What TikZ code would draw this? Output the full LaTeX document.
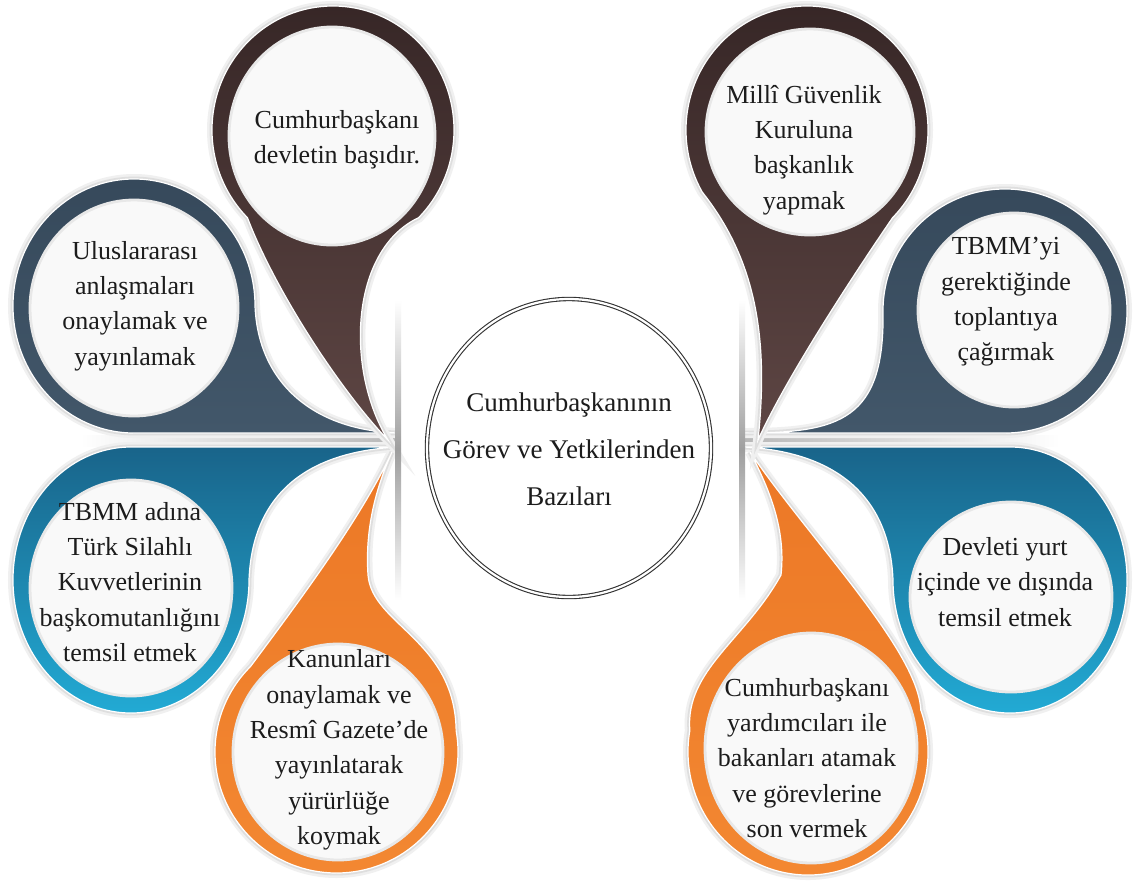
\documentclass[tikz,border=0pt]{standalone}
\usepackage{fontspec}
\setmainfont{Liberation Serif}
\usetikzlibrary{calc}
\definecolor{brA}{RGB}{54,38,38}
\definecolor{brB}{RGB}{94,70,68}
\definecolor{slA}{RGB}{54,73,91}
\definecolor{slB}{RGB}{66,87,106}
\definecolor{blA}{RGB}{25,100,138}
\definecolor{blB}{RGB}{34,170,212}
\definecolor{orA}{RGB}{236,120,38}
\definecolor{orB}{RGB}{243,136,50}
\definecolor{txt}{RGB}{28,28,28}
\definecolor{inwhite}{RGB}{249,249,249}
\begin{document}
\begin{tikzpicture}[x=0.5pt,y=-0.5pt,
  pinshape/.style={preaction={draw=black!6,line width=5pt},preaction={draw=black!13,line width=2.4pt},draw=white,line width=0.6pt},
  innerdisc/.style={fill=inwhite,draw=black!9,line width=1.4pt},
  lbl/.style={text=txt,align=center,font=\fontsize{13}{17.7}\selectfont,inner sep=0pt},
  glow/.style={top color=white,bottom color=white,middle color=black!38}
]
\path[use as bounding box,fill=white] (0,0) rectangle (1135,885);

% shadow bands between the side pins
\shade[left color=white,right color=black!28] (80,435) rectangle (398,446);
\shade[left color=black!28,right color=white] (742,435) rectangle (1060,446);

% slate left
\path[pinshape,top color=slA,bottom color=slB]
  ($(134,306)+(90:121 and 127)$) arc[start angle=90,end angle=360,x radius=121,y radius=127]
  .. controls (258,380) and (310,430) .. (398,433) -- cycle;
% slate right
\path[pinshape,top color=slA,bottom color=slB]
  ($(1005,311)+(90:122 and 122)$) arc[start angle=90,end angle=-180,x radius=122,y radius=122]
  .. controls (885,420) and (840,433) .. (744,433) -- cycle;
% blue left
\path[pinshape,top color=blA,bottom color=blB]
  ($(131,580)+(270:118 and 133)$) arc[start angle=270,end angle=0,x radius=118,y radius=133]
  .. controls (252,500) and (300,452) .. (398,447) -- cycle;
% blue right
\path[pinshape,top color=blA,bottom color=blB]
  ($(1010,580)+(-90:117 and 133)$) arc[start angle=-90,end angle=180,x radius=117,y radius=133]
  .. controls (890,500) and (840,452) .. (744,447) -- cycle;
% orange left
\path[pinshape,top color=orA,bottom color=orB]
  ($(336.5,752)+(225:121.5 and 121)$) arc[start angle=225,end angle=-10,x radius=121.5,y radius=121]
  .. controls (455,640) and (372,625) .. (368,575)
  .. controls (365,530) and (375,490) .. (392,452)
  .. controls (360,520) and (300,600) .. cycle;
% orange right
\path[pinshape,top color=orA,bottom color=orB]
  ($(808,752)+(-20:120 and 123)$) arc[start angle=-20,end angle=190,x radius=120,y radius=123]
  .. controls (685,670) and (745,640) .. (781,575)
  .. controls (786,530) and (770,490) .. (750,452)
  .. controls (810,540) and (918,650) .. cycle;
% brown left
\path[pinshape,top color=brA,bottom color=brB]
  ($(333,130)+(135:121 and 124)$) arc[start angle=135,end angle=405,x radius=121,y radius=124]
  .. controls (350,250) and (345,370) .. (388,440)
  .. controls (340,390) and (275,290) .. cycle;
% brown right
\path[pinshape,top color=brA,bottom color=brB]
  ($(807,130)+(45:121 and 124)$) arc[start angle=45,end angle=-210,x radius=121,y radius=124]
  .. controls (752,255) and (770,330) .. (758,440)
  .. controls (785,380) and (850,280) .. cycle;

% white discs
\path[innerdisc] (332,136) ellipse[x radius=103,y radius=109];
\path[innerdisc] (810,132) ellipse[x radius=104,y radius=103];
\path[innerdisc] (134,308) ellipse[x radius=104,y radius=108];
\path[innerdisc] (1014,310) ellipse[x radius=96,y radius=97];
\path[innerdisc] (131,588) ellipse[x radius=101,y radius=108];
\path[innerdisc] (1011,597) ellipse[x radius=101,y radius=95];
\path[innerdisc] (338,752) ellipse[x radius=105,y radius=108];
\path[innerdisc] (811,748) ellipse[x radius=106,y radius=115];

% vertical glow lines
\shade[glow] (395,300) rectangle (401,600);
\shade[glow] (739,300) rectangle (745,600);

% centre
\draw[draw=black!80,line width=0.55pt,double=white,double distance=1.1pt]
  (569,448) ellipse[x radius=142,y radius=149];
\node[inner sep=0pt,text=txt,align=center,font=\fontsize{13.5}{23.5}\selectfont]
  (center) at (569,449) {Cumhurbaşkanının\\Görev ve Yetkilerinden\\Bazıları};

% labels
\node[lbl] (t1) at (337,140) {Cumhurbaşkanı\\devletin başıdır.};
\node[lbl] (t2) at (804,150) {Millî Güvenlik\\Kuruluna\\başkanlık\\yapmak};
\node[lbl] (t3) at (135,306) {Uluslararası\\anlaşmaları\\onaylamak ve\\yayınlamak};
\node[lbl] (t4) at (1006,302) {TBMM’yi\\gerektiğinde\\toplantıya\\çağırmak};
\node[lbl] (t5) at (130,582) {TBMM adına\\Türk Silahlı\\Kuvvetlerinin\\başkomutanlığını\\temsil etmek};
\node[lbl] (t6) at (1005,582) {Devleti yurt\\içinde ve dışında\\temsil etmek};
\node[lbl] (t7) at (339,750) {Kanunları\\onaylamak ve\\Resmî Gazete’de\\yayınlatarak\\yürürlüğe\\koymak};
\node[lbl] (t8) at (807,758) {Cumhurbaşkanı\\yardımcıları ile\\bakanları atamak\\ve görevlerine\\son vermek};
\end{tikzpicture}
\end{document}
